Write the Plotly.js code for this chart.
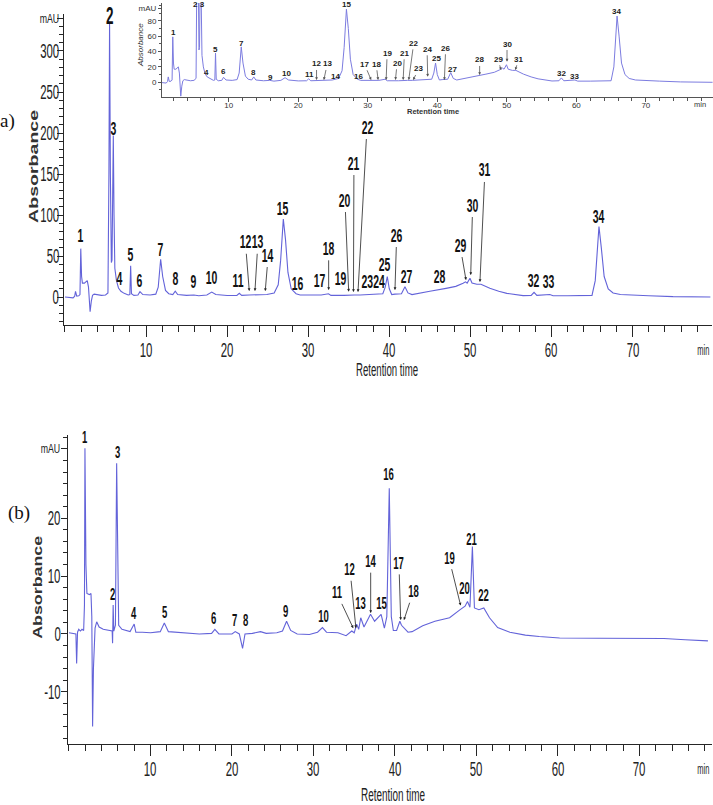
<!DOCTYPE html>
<html><head><meta charset="utf-8">
<script src="https://cdn.plot.ly/plotly-3.0.1.min.js"></script>
<style>html,body{margin:0;padding:0;background:#fff}#chart{width:713px;height:805px}</style>
</head><body><div id="chart"></div>
<script>
// ---------- Panel (a) chromatogram (min, mAU) ----------
const timeA = [0.0,0.5,1.0,1.2,1.3,1.45,1.7,1.85,1.95,2.05,2.15,2.4,2.6,2.75,2.9,3.0,3.1,3.25,3.4,3.6,4.0,4.5,5.0,5.3,5.42,5.5,5.6,5.72,5.8,5.88,5.96,6.05,6.15,6.35,6.6,6.9,7.3,7.8,8.0,8.1,8.2,8.5,9.0,9.25,9.6,10.5,11.2,11.5,11.8,12.05,12.4,12.8,13.3,13.6,13.9,15.0,15.9,16.5,17.5,18.1,18.6,20.0,21.2,21.5,21.8,22.7,23.5,24.9,25.8,26.3,26.6,26.93,27.2,27.5,27.9,28.5,29.0,30.5,31.6,32.5,32.8,34.4,35.0,35.7,36.4,37.5,38.5,39.2,39.5,39.75,40.0,40.3,40.7,41.5,41.93,42.3,42.8,43.8,45.0,47.0,48.2,49.1,49.4,49.6,49.95,50.2,50.8,51.3,52.4,53.5,54.5,56.5,57.5,57.85,58.2,59.8,60.2,62.0,65.0,65.4,65.86,66.15,66.5,67.0,67.6,68.5,70.0,72.0,75.0,77.0,79.6];
const absA  = [0,-0.5,-1,1,7,1,1.5,3,59,25,17,17,19,20,12,-5,-18,-5,2,3.5,2.5,2,2.5,5,150,335,150,42,45,120,197,100,35,20,11,7,4.5,2.5,3,38,4,2,2.5,6.5,3,2.5,3.5,12,46,25,8,4,3,7,3,2,2.5,1.5,2.5,6,3,1.8,2,4.5,2,2.5,2.5,3,5,15,45,95,70,30,10,4,2.5,2,2.5,4,2,2,2.5,2.5,2.5,3,3.5,4,12,25,10,3,3.5,4,12.6,5,3,4.5,7,10.6,13,16.7,18.5,17,22.8,17,15.5,15.5,10.6,7,4.5,1.7,2,5.7,2,3,1.5,1.5,2,20,86,60,25,10,5,3,2,1.5,0.5,0.5,0];

// ---------- Panel (b) chromatogram (min, mAU) ----------
const timeB = [0.0,0.5,0.85,0.94,1.05,1.2,1.4,1.6,1.8,1.9,1.96,2.08,2.2,2.5,2.7,2.8,2.9,3.0,3.2,3.4,3.7,4.2,4.8,5.3,5.35,5.42,5.5,5.7,5.85,5.98,6.1,6.5,7.0,7.5,8.0,8.2,9.0,10.0,11.2,11.7,12.2,14.0,16.0,17.5,17.9,18.4,20.0,20.4,20.9,21.3,21.6,22.5,23.5,24.2,25.5,26.2,26.7,27.2,28.0,29.5,30.5,31.1,31.6,33.0,34.0,34.7,35.0,35.3,35.55,35.8,36.2,37.0,37.5,38.3,38.7,39.0,39.3,39.55,39.8,40.2,40.6,40.8,41.3,41.6,42.1,43.4,44.9,46.7,48.0,48.6,48.9,49.2,49.5,49.75,50.3,50.9,51.6,52.6,54.1,56.0,57.7,60.2,65.0,70.4,73.0,75.6,78.4];
const absB  = [0.2,0.1,0,-5.1,0.3,0.8,0.5,0.8,0.6,5,32.1,12,7.0,6.8,7.0,3,-16,-6,1,2.1,1.2,0.8,0.6,0.5,-1.6,5.0,0.5,1.5,29.5,8,1.5,0.8,0.6,0.4,1.7,0.3,0.3,0.2,0.4,1.9,0.4,0.2,0,0.1,0.8,0,0,0.4,0,-2.5,0,0.1,0.4,0.1,0.2,0.5,2.2,0.6,0,-0.1,0.3,1.1,0.3,0.2,-0.3,0.5,0.2,1.7,0.8,2.8,1.2,3.4,2.2,3.4,1.0,3,25.2,3,0.6,0.6,2.2,1.5,0.8,0.3,0.4,1.4,2.2,2.8,4.2,4.8,5.6,4.6,15.1,4.5,4.2,4.5,2.8,1.1,0.3,-0.2,-0.45,-0.7,-0.75,-0.85,-0.8,-1.0,-1.2];

// ---------- Peak labels, panel (a) main ----------
const labA_text = ['1','3','4','5','6','7','8','9','10','11','12','13','14','15','16','17','18','19','20','21','22','2324','25','26','27','28','29','30','31','32','33','34'];
const labA_x    = [1.94,5.96,6.70,8.10,9.25,11.80,13.60,15.82,18.09,21.37,22.25,23.80,25.07,26.92,28.65,31.45,32.52,34.00,34.53,35.64,37.25,38.11,39.47,40.91,42.06,46.25,48.72,50.28,51.80,57.76,59.69,65.86];
const labA_y    = [75.6,206,22,52.4,20.7,58.2,22.8,18.7,23.5,20.7,67.4,67.4,51.2,108.2,16.7,20.7,59.4,22.8,118.3,163.4,207.3,18.7,40.2,75.6,24.8,24.8,63.4,112.2,154.9,20.7,18.7,97.9];
const labA_tx   = [null,null,null,null,null,null,null,null,null,null,22.73,23.43,24.70,null,null,null,32.52,null,34.99,35.58,36.14,null,null,40.70,null,null,49.46,50.04,51.18,null,null,null];
const labA_ty   = [null,null,null,null,null,null,null,null,null,null,7.3,7.3,7.3,null,null,null,8.5,null,6.5,6.1,6.1,null,null,8.5,null,null,20.7,26.8,18.3,null,null,null];

// ---------- Peak labels, inset ----------
const labI_text = ['1','2 3','4','5','6','7','8','9','10','11','12','13','14','15','16','17','18','19','20','21','22','23','24','25','26','27','28','29','30','31','32','33','34'];
const labI_x    = [2.04,5.75,6.82,8.12,9.31,11.81,13.62,16.02,18.28,21.58,22.63,24.17,25.36,26.94,28.62,29.53,31.21,32.79,34.22,35.27,36.61,37.33,38.53,39.87,41.21,42.13,46.09,48.74,50.03,51.70,57.83,59.70,65.73];
const labI_y    = [64.9,101.5,12.5,42.9,13.8,50.6,12.5,6.5,11.7,9.5,23.8,23.8,7.3,101.5,7.3,23.4,23.4,37.7,24.7,37.7,50.6,17.3,42.9,31.2,44.2,16.9,29.0,29.9,49.7,29.9,10.8,7.3,92.6];
const labI_tx   = [null,null,null,null,null,null,null,null,null,null,22.63,23.68,null,null,null,30.49,31.49,32.64,33.98,35.09,35.89,36.52,38.62,null,41.02,null,46.09,49.17,50.03,51.22,null,null,null];
const labI_ty   = [null,null,null,null,null,null,null,null,null,null,3.0,3.0,null,null,null,3.0,3.0,3.0,3.0,3.0,3.0,3.0,7.3,null,3.0,null,9.5,16.0,26.8,16.0,null,null,null];

// ---------- Peak labels, panel (b) ----------
const labB_text = ['1','3','2','4','5','6','7','8','9','10','11','12','13','14','15','16','17','18','19','20','21','22'];
const labB_x    = [1.96,5.93,5.36,7.98,11.66,17.79,20.37,21.72,26.59,31.20,32.85,34.48,35.79,37.02,38.37,39.26,40.49,42.25,46.63,48.59,49.41,50.83];
const labB_y    = [33.9,31.3,6.75,3.6,3.7,2.7,2.3,2.3,3.9,3.0,7.1,11.1,5.3,12.5,5.3,27.5,12.2,7.3,13.1,7.9,16.4,6.6];
const labB_tx   = [null,null,null,null,null,null,null,null,null,null,34.88,35.21,null,37.02,null,null,40.70,41.10,48.06,null,null,null];
const labB_ty   = [null,null,null,null,null,null,null,null,null,null,1.0,1.0,null,3.6,null,null,2.4,2.4,4.9,null,null,null];

// ---------- Tick labels ----------
const xTicks = [10,20,30,40,50,60,70];
const yTicksA = [0,50,100,150,200,250,300,340];
const yTextA  = ['0','50','100','150','200','250','300','mAU'];
const yTicksI = [0,20,40,60,80,96.5];
const yTextI  = ['0','20','40','60','80','mAU'];
const yTicksB = [-10,0,10,20,32];
const yTextB  = ['-10','0','10','20','mAU'];

const SANS = '"Liberation Sans", Arial, sans-serif';
const SERIF = '"Liberation Serif", "Times New Roman", serif';
const AX = '#262626';
const LINE = '#6363d9';

const traces = [
  {x: timeA, y: absA, xaxis:'x', yaxis:'y', type:'scatter', mode:'lines', line:{color:LINE, width:1.1}, hoverinfo:'skip'},
  {x: timeA, y: absA, xaxis:'x2', yaxis:'y2', type:'scatter', mode:'lines', line:{color:'#7c7ce0', width:1}, hoverinfo:'skip'},
  {x: timeB, y: absB, xaxis:'x3', yaxis:'y3', type:'scatter', mode:'lines', line:{color:LINE, width:1.1}, hoverinfo:'skip'}
];

const ann = [];
const annSqueeze = []; // horizontal squeeze factor ( <=3 ) or target width in px ( >3 )
function addLabels(T,X,Y,TX,TY,xr,yr,font,arrowColor,sq){
  for(let i=0;i<T.length;i++){
    if(TX[i]===null){
      ann.push({text:T[i],x:X[i],y:Y[i],xref:xr,yref:yr,showarrow:false,xanchor:'center',yanchor:'middle',font:font});
    } else {
      ann.push({text:T[i],x:TX[i],y:TY[i],ax:X[i],ay:Y[i],xref:xr,yref:yr,axref:xr,ayref:yr,showarrow:true,
        arrowhead:2,arrowsize:0.7,arrowwidth:0.8,arrowcolor:arrowColor,standoff:0,startstandoff:0,font:font});
    }
    annSqueeze.push(sq);
  }
}
addLabels(labA_text,labA_x,labA_y,labA_tx,labA_ty,'x','y',{family:SANS,size:19,color:'#111',weight:'bold'},'#222',0.55);
addLabels(labI_text,labI_x,labI_y,labI_tx,labI_ty,'x2','y2',{family:SANS,size:8,color:'#222',weight:'bold'},'#555',1);
addLabels(labB_text,labB_x,labB_y,labB_tx,labB_ty,'x3','y3',{family:SANS,size:17,color:'#111',weight:'bold'},'#222',0.56);

function P(px,py){return {x:px/713, y:1-py/805};}
function paperText(text,px,py,font,sq,extra){
  const p=P(px,py);
  ann.push(Object.assign({text:text,x:p.x,y:p.y,xref:'paper',yref:'paper',showarrow:false,xanchor:'center',yanchor:'middle',font:font},extra||{}));
  annSqueeze.push(sq);
}

// condensed tick labels of the two main panels, drawn as annotations on the axes' scales
const tickFont = {family:SANS,size:20,color:'#222'};
const TSQ = 0.57;
function xTickLabels(xref, py){
  xTicks.forEach(function(v){
    ann.push({text:String(v),x:v,xref:xref,y:1-py/805,yref:'paper',showarrow:false,xanchor:'center',yanchor:'middle',font:tickFont});
    annSqueeze.push(TSQ);
  });
}
function yTickLabels(yref, vals, texts, rightPx){
  vals.forEach(function(v,i){
    const t = texts[i];
    const isUnit = t==='mAU';
    const f = isUnit ? {family:SANS,size:13,color:'#222'} : tickFont;
    const w = isUnit ? 19.5 : (t.replace('-','').length*0.556*20 + (t.indexOf('-')>=0?0.333*20:0))*TSQ;
    ann.push({text:t,x:(rightPx - w/2)/713,xref:'paper',y:v,yref:yref,showarrow:false,xanchor:'center',yanchor:'middle',font:f});
    annSqueeze.push(isUnit ? 19.5 : TSQ);
  });
}
xTickLabels('x', 350);
xTickLabels('x3', 769);
yTickLabels('y', yTicksA, yTextA, 59);
yTickLabels('y3', yTicksB, yTextB, 60.5);

paperText('2',109,15,{family:SANS,size:24,color:'#111',weight:'bold'},7.5);
paperText('a)',7,121,{family:SERIF,size:19,color:'#111'},1);
paperText('(b)',19,513,{family:SERIF,size:19,color:'#111'},1);
paperText('Absorbance',33,167,{family:SANS,size:13,color:'#333',weight:'bold'},113,{textangle:-90});
paperText('Absorbance',38,587,{family:SANS,size:12,color:'#333',weight:'bold'},103,{textangle:-90});
paperText('Retention time',387,370,{family:SANS,size:18,color:'#222'},62);
paperText('Retention time',393,795,{family:SANS,size:18,color:'#222'},64);
paperText('min',703,350,{family:SANS,size:14,color:'#222'},12);
paperText('min',703,769,{family:SANS,size:14,color:'#222'},12);
paperText('Retention time',433,111,{family:SANS,size:7.5,color:'#333',weight:'bold'},1);
paperText('min',700,104,{family:SANS,size:7.5,color:'#333'},1);
paperText('Absorbance',141,45,{family:SANS,size:8,color:'#333',style:'italic'},1,{textangle:-90});

const tickFontI = {family:SANS,size:8,color:'#333'};

const layout = {
  width:713, height:805, margin:{l:0,r:0,t:0,b:0}, showlegend:false,
  paper_bgcolor:'#fff', plot_bgcolor:'rgba(0,0,0,0)',
  xaxis:{domain:[64/713,712/713], range:[-0.12,79.8], anchor:'y', showgrid:false, zeroline:false,
    showline:true, linecolor:AX, linewidth:1, ticks:'outside', ticklen:11, tickcolor:AX,
    tickmode:'array', tickvals:xTicks, showticklabels:false,
    minor:{dtick:2, tick0:0, ticks:'outside', ticklen:6, tickcolor:AX}},
  yaxis:{domain:[1-325/805,1-14/805], range:[-34.1,345.1], anchor:'x', showgrid:false, zeroline:false,
    showline:true, linecolor:AX, linewidth:1, ticks:'outside', ticklen:6, tickcolor:AX,
    tickmode:'array', tickvals:yTicksA, showticklabels:false,
    minor:{dtick:10, tick0:0, ticks:'outside', ticklen:4, tickcolor:AX}},
  xaxis2:{domain:[162/713,1], range:[0.4,79.66], anchor:'y2', showgrid:false, zeroline:false,
    showline:true, linecolor:'#555', linewidth:1, ticks:'outside', ticklen:4, tickcolor:'#555',
    tickmode:'array', tickvals:xTicks, ticktext:xTicks.map(String), tickfont:tickFontI, ticklabelstandoff:-4,
    minor:{dtick:2, tick0:0, ticks:'outside', ticklen:2.5, tickcolor:'#555'}},
  yaxis2:{domain:[1-97/805,1-3/805], range:[-19.1,103], anchor:'x2', showgrid:false, zeroline:false,
    showline:true, linecolor:'#555', linewidth:1, ticks:'outside', ticklen:3, tickcolor:'#555',
    tickmode:'array', tickvals:yTicksI, ticktext:yTextI, tickfont:tickFontI,
    minor:{dtick:10, tick0:0, ticks:'outside', ticklen:2, tickcolor:'#555'}},
  xaxis3:{domain:[68/713,712/713], range:[-0.12,78.9], anchor:'y3', showgrid:false, zeroline:false,
    showline:true, linecolor:AX, linewidth:1, ticks:'outside', ticklen:11, tickcolor:AX,
    tickmode:'array', tickvals:xTicks, showticklabels:false,
    minor:{dtick:2, tick0:0, ticks:'outside', ticklen:6, tickcolor:AX}},
  yaxis3:{domain:[1-744/805,1-435/805], range:[-19.03,34.4], anchor:'x3', showgrid:false, zeroline:false,
    showline:true, linecolor:AX, linewidth:1, ticks:'outside', ticklen:6, tickcolor:AX,
    tickmode:'array', tickvals:yTicksB, showticklabels:false,
    minor:{dtick:2, tick0:0, ticks:'outside', ticklen:4, tickcolor:AX}},
  annotations: ann
};

function squeezeText(el, sq){
  if(!el || sq===1 || el.hasAttribute('textLength')) return;
  const w = el.getComputedTextLength();
  if(!(w>0)) return;
  const target = sq>3 ? sq : w*sq;
  el.setAttribute('textLength', target.toFixed(2));
  el.setAttribute('lengthAdjust','spacingAndGlyphs');
}
function applySqueeze(){
  const gd = document.getElementById('chart');
  gd.querySelectorAll('g.annotation').forEach(function(g){
    const i = +g.getAttribute('data-index');
    squeezeText(g.querySelector('text.annotation-text'), annSqueeze[i]);
  });
}

Plotly.newPlot('chart', traces, layout, {displayModeBar:false, staticPlot:true}).then(function(gd){
  applySqueeze();
  setTimeout(applySqueeze, 50);
});
</script>
</body></html>
